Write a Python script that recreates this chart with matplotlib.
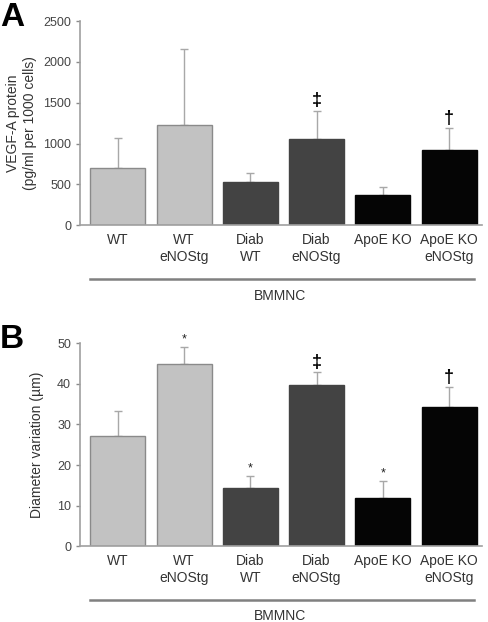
import matplotlib
matplotlib.use("Agg")
import matplotlib.pyplot as plt
from matplotlib.transforms import blended_transform_factory

plt.rcParams["font.family"] = ["Liberation Sans", "DejaVu Sans"]

groups = ["WT", "WT\neNOStg", "Diab\nWT", "Diab\neNOStg", "ApoE KO", "ApoE KO\neNOStg"]
bar_colors = ["#c2c2c2", "#c2c2c2", "#434343", "#434343", "#050505", "#050505"]
edge_colors = ["#8a8a8a", "#8a8a8a", "#434343", "#434343", "#050505", "#050505"]

vegf_mean = [700, 1225, 525, 1055, 365, 920]
vegf_err = [365, 930, 110, 345, 100, 270]
vegf_marks = ["", "", "", "\u2021", "", "\u2020"]

diam_mean = [27.1, 44.8, 14.3, 39.7, 11.8, 34.2]
diam_err = [6.2, 4.2, 2.9, 3.2, 4.2, 5.0]
diam_marks = ["", "*", "*", "\u2021", "*", "\u2020"]

fig = plt.figure(figsize=(4.88, 6.22), dpi=100)
ax_a = fig.add_axes([0.164, 0.638, 0.824, 0.328])
ax_b = fig.add_axes([0.164, 0.122, 0.824, 0.326])


def draw_panel(ax, means, errs, marks, ymax, step, letter, ylabel, mark_pad):
    x = list(range(len(means)))
    ax.bar(x, means, width=0.83, color=bar_colors, edgecolor=edge_colors, linewidth=1.0, zorder=2)
    ax.errorbar(x, means, yerr=[[0] * len(errs), errs], fmt="none", ecolor="#a8a8a8",
                elinewidth=1.0, capsize=3, capthick=1.0, zorder=1)
    for xi, m, e, s in zip(x, means, errs, marks):
        if not s:
            continue
        if s == "*":
            ax.text(xi, m + e + mark_pad * 0.4, s, ha="center", va="bottom", fontsize=9, color="#222222")
        else:
            ax.text(xi, m + e + mark_pad * 0.3, s, ha="center", va="bottom", fontsize=13,
                    fontweight="bold", color="black")
    ax.set_xlim(-0.57, 5.5)
    ax.set_ylim(0, ymax)
    ax.set_yticks([i * step for i in range(int(ymax / step) + 1)])
    ax.tick_params(axis="y", labelsize=9, colors="#8a8a8a", labelcolor="#444444", length=3, width=1)
    ax.set_xticks(x)
    ax.set_xticklabels(groups, fontsize=10, color="#333333", linespacing=1.25)
    ax.tick_params(axis="x", length=0, pad=6)
    for side in ["top", "right"]:
        ax.spines[side].set_visible(False)
    for side in ["left", "bottom"]:
        ax.spines[side].set_color("#a0a0a0")
        ax.spines[side].set_linewidth(1.2)
    ax.set_ylabel(ylabel, fontsize=10, color="#333333", linespacing=1.2)
    trans = blended_transform_factory(ax.transData, ax.transAxes)
    ax.plot([-0.42, 5.38], [-0.265, -0.265], color="#808080", linewidth=1.8,
            transform=trans, clip_on=False)
    ax.text(2.45, -0.345, "BMMNC", transform=trans, ha="center", va="center",
            fontsize=10, color="#333333")
    ax.text(-0.199, 1.02, letter, transform=ax.transAxes, ha="left", va="center",
            fontsize=24, fontweight="bold")


draw_panel(ax_a, vegf_mean, vegf_err, vegf_marks, 2500, 500, "A",
           "VEGF-A protein\n(pg/ml per 1000 cells)", 60)
draw_panel(ax_b, diam_mean, diam_err, diam_marks, 50, 10, "B",
           "Diameter variation (\u00b5m)", 1.2)
ax_a.yaxis.set_label_coords(-0.108, 0.5)
ax_b.yaxis.set_label_coords(-0.09, 0.5)

fig.savefig("out.png", dpi=100)
